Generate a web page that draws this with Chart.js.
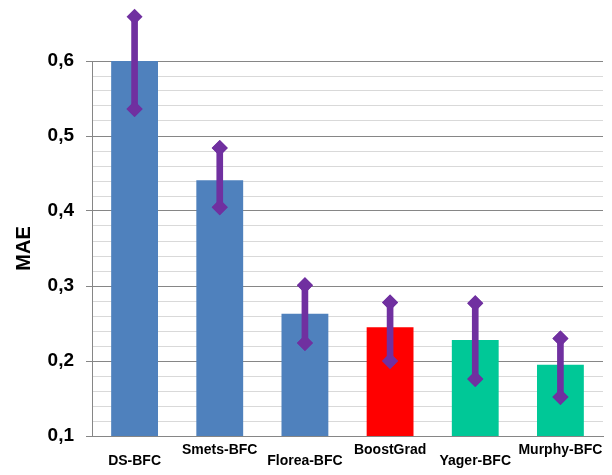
<!DOCTYPE html>
<html>
<head>
<meta charset="utf-8">
<script src="https://cdn.jsdelivr.net/npm/chart.js@4"></script>
<style>
html,body{margin:0;padding:0;background:#fff;}
#wrap{width:612px;height:475px;}
</style>
</head>
<body>
<div id="wrap"><canvas id="maeChart" width="612" height="475"></canvas></div>
<script>
// data
const methods = ["DS-BFC", "Smets-BFC", "Florea-BFC", "BoostGrad", "Yager-BFC", "Murphy-BFC"];
const maeValues = [0.600, 0.441, 0.263, 0.245, 0.228, 0.195];
const errLow = [0.536, 0.405, 0.224, 0.200, 0.176, 0.152];
const errHigh = [0.659, 0.484, 0.301, 0.278, 0.277, 0.230];
const barColors = ["#4F81BD", "#4F81BD", "#4F81BD", "#FF0000", "#00C897", "#00C897"];

const purple = "#7030A0";

function isMajor(v){
    return Math.abs(v*10 - Math.round(v*10)) < 1e-6;
}

const errRange = errLow.map((lo, i) => [lo, errHigh[i]]);

// diamonds above the top of the axis would be skipped, so draw the
// marker datasets again without the chart-area check
const markersOnTop = {
    id: "markersOnTop",
    afterDatasetsDraw(chart){
        const ctx = chart.ctx;
        chart.data.datasets.forEach((ds, i) => {
            if(ds.type !== "line") return;
            chart.getDatasetMeta(i).data.forEach(pt => pt.draw(ctx));
        });
    }
};

new Chart(document.getElementById("maeChart"), {
    type: "bar",
    data: {
        labels: methods,
        datasets: [
            {
                type: "line",
                data: errHigh,
                showLine: false,
                pointStyle: "rectRot",
                pointRadius: 8,
                pointBackgroundColor: purple,
                pointBorderWidth: 0,
                clip: false,
                order: 0
            },
            {
                type: "line",
                data: errLow,
                showLine: false,
                pointStyle: "rectRot",
                pointRadius: 8,
                pointBackgroundColor: purple,
                pointBorderWidth: 0,
                clip: false,
                order: 0
            },
            {
                data: errRange,
                backgroundColor: purple,
                barThickness: 6,
                grouped: false,
                clip: false,
                order: 1
            },
            {
                data: maeValues,
                backgroundColor: barColors,
                categoryPercentage: 1,
                barPercentage: 0.55,
                grouped: false,
                order: 2
            }
        ]
    },
    plugins: [markersOnTop],
    options: {
        responsive: false,
        animation: false,
        layout: { padding: { top: 61, right: 9, left: 0, bottom: 0 } },
        plugins: {
            legend: { display: false },
            tooltip: { enabled: false }
        },
        scales: {
            x: {
                grid: { display: false },
                border: { color: "#868686", width: 1 },
                ticks: {
                    color: "#000",
                    padding: 1,
                    maxRotation: 0,
                    autoSkip: false,
                    font: { family: "Liberation Sans", size: 14, weight: "bold", lineHeight: "11px" },
                    callback: function(v, i){
                        const name = methods[i];
                        return i % 2 === 0 ? ["", name] : [name];
                    }
                },
                afterFit: function(scale){ scale.height = 39; }
            },
            y: {
                min: 0.1,
                max: 0.6,
                border: { color: "#868686", width: 1 },
                grid: {
                    color: ctx => isMajor(ctx.tick.value) ? "#868686" : "#D9D9D9",
                    tickColor: ctx => isMajor(ctx.tick.value) ? "#868686" : "rgba(0,0,0,0)",
                    tickLength: 6,
                    lineWidth: 1
                },
                ticks: {
                    stepSize: 0.02,
                    autoSkip: false,
                    color: "#000",
                    padding: 12,
                    font: { family: "Liberation Sans", size: 19, weight: "bold" },
                    callback: function(v){
                        return isMajor(v) ? v.toFixed(1).replace(".", ",") : "";
                    }
                },
                title: {
                    display: true,
                    text: "MAE",
                    color: "#000",
                    padding: { top: 12, bottom: 0 },
                    font: { family: "Liberation Sans", size: 20, weight: "bold" }
                },
                afterFit: function(scale){ scale.width = 92; }
            }
        }
    }
});
</script>
</body>
</html>
